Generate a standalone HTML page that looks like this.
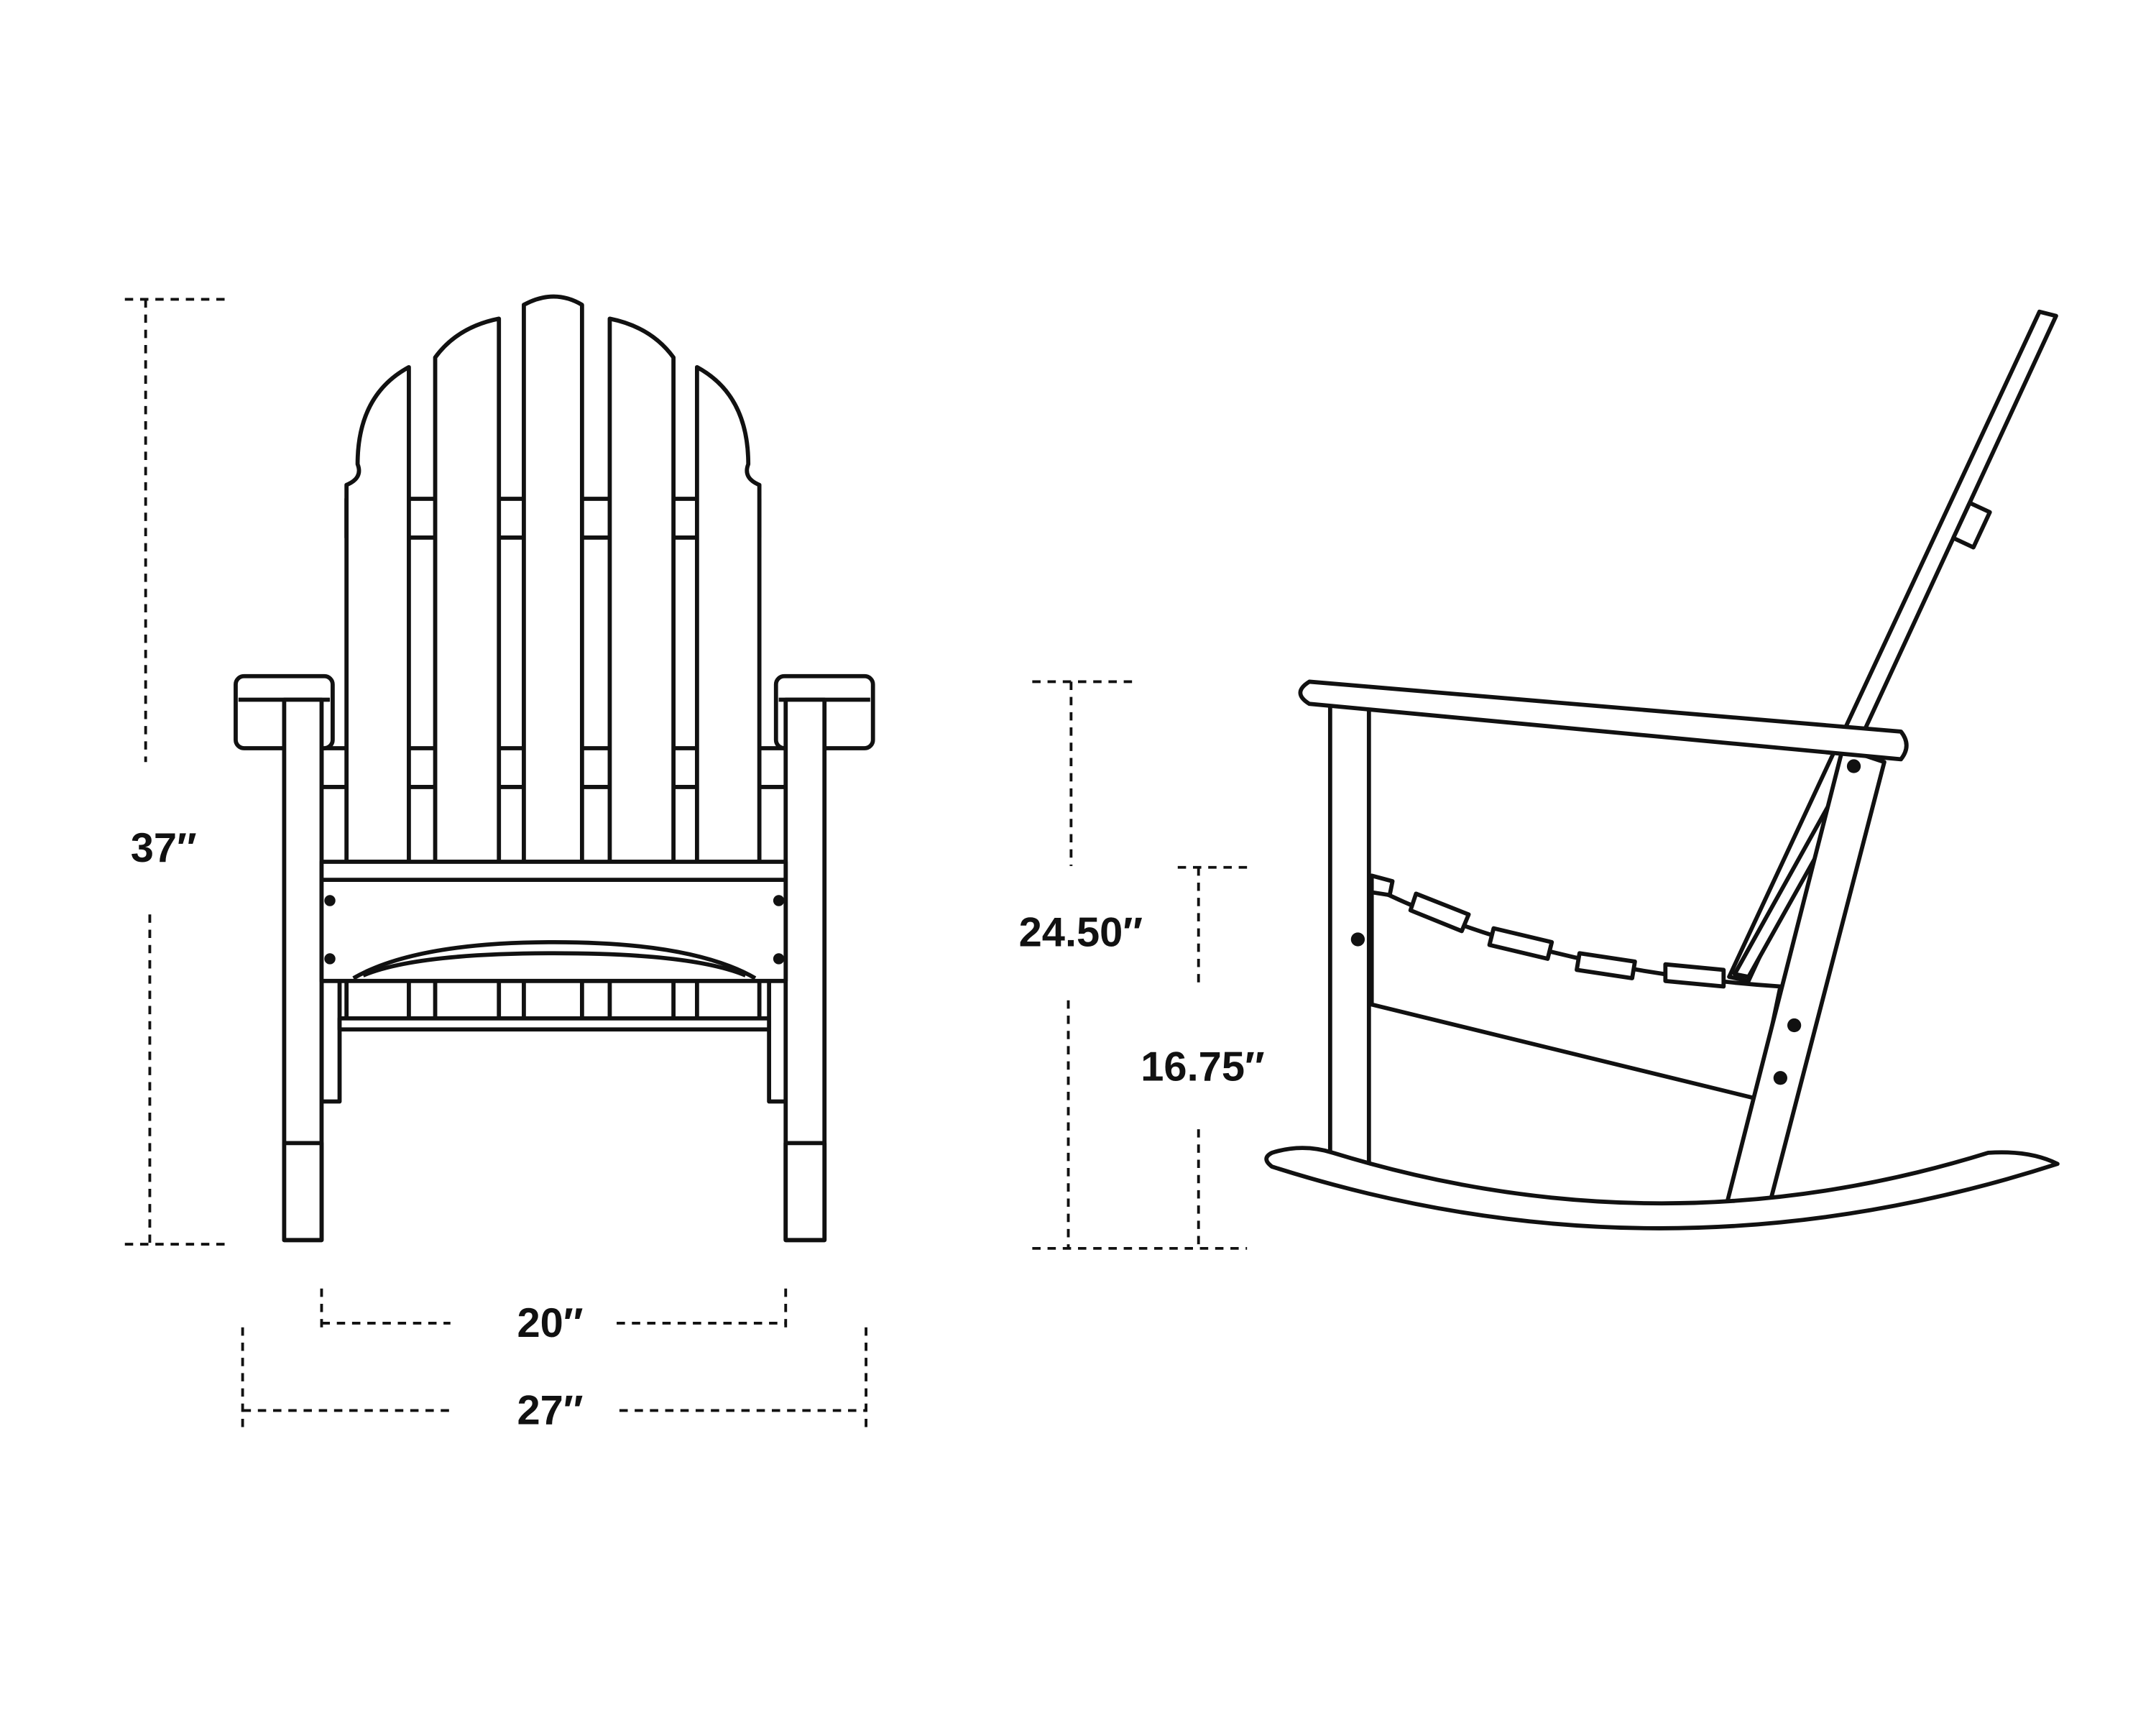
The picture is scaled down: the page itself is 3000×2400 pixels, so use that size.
<!DOCTYPE html>
<html><head><meta charset="utf-8"><style>
html,body{margin:0;padding:0;background:#fff;}
svg{display:block;}
text{font-family:"Liberation Sans",sans-serif;font-weight:bold;font-size:30px;fill:#111;}
</style></head><body>
<svg width="3000" height="2400" viewBox="0 0 1556 1245" xmlns="http://www.w3.org/2000/svg">
<g fill="none" stroke="#111" stroke-width="2" stroke-dasharray="6,5">
<line x1="90" y1="216" x2="162" y2="216"/><line x1="105" y1="216" x2="105" y2="550"/>
<line x1="108" y1="660" x2="108" y2="898"/><line x1="90" y1="898" x2="162" y2="898"/>
<line x1="232" y1="930" x2="232" y2="962"/><line x1="567" y1="930" x2="567" y2="962"/>
<line x1="232" y1="955" x2="325" y2="955"/><line x1="445" y1="955" x2="567" y2="955"/>
<line x1="175" y1="958" x2="175" y2="1030"/><line x1="625" y1="958" x2="625" y2="1030"/>
<line x1="175" y1="1018" x2="325" y2="1018"/><line x1="447" y1="1018" x2="625" y2="1018"/>
<line x1="745" y1="492" x2="817" y2="492"/><line x1="773" y1="492" x2="773" y2="625"/>
<line x1="771" y1="722" x2="771" y2="900"/><line x1="745" y1="901" x2="900" y2="901"/>
<line x1="850" y1="626" x2="900" y2="626"/><line x1="865" y1="626" x2="865" y2="712"/>
<line x1="865" y1="815" x2="865" y2="900"/>
</g>
<text x="118" y="622" text-anchor="middle">37″</text>
<text x="397" y="965" text-anchor="middle">20″</text>
<text x="397" y="1028" text-anchor="middle">27″</text>
<text x="780" y="683" text-anchor="middle">24.50″</text>
<text x="868" y="780" text-anchor="middle">16.75″</text>

<g fill="#fff" stroke="#111" stroke-width="3" stroke-linejoin="round">
<rect x="250" y="360" width="298" height="28"/>
<rect x="232" y="540" width="336" height="28"/>
<path d="M295 265 Q258 285 258 335 Q262 345 250 350 L250 622 L295 622 Z"/>
<path d="M314 258 Q330 236 360 230 L360 622 L314 622 Z"/>
<path d="M378 220 Q400 208 420 220 L420 622 L378 622 Z"/>
<path d="M440 230 Q470 236 486 258 L486 622 L440 622 Z"/>
<path d="M503 265 Q540 285 540 335 Q536 345 548 350 L548 622 L503 622 Z"/>
<rect x="170" y="488" width="70" height="52" rx="6"/>
<rect x="560" y="488" width="70" height="52" rx="6"/>
<line x1="172" y1="505" x2="238" y2="505"/><line x1="562" y1="505" x2="628" y2="505"/>
<rect x="232" y="700" width="13" height="95"/><rect x="555" y="700" width="13" height="95"/>
<rect x="250" y="705" width="45" height="30"/><rect x="314" y="705" width="46" height="30"/>
<rect x="378" y="705" width="42" height="30"/><rect x="440" y="705" width="46" height="30"/>
<rect x="503" y="705" width="45" height="30"/>
<rect x="245" y="735" width="310" height="8"/>
<rect x="205" y="505" width="27" height="390"/><rect x="567" y="505" width="28" height="390"/>
<rect x="205" y="825" width="27" height="70"/><rect x="567" y="825" width="28" height="70"/>
<rect x="232" y="622" width="335" height="86"/>
<line x1="232" y1="635" x2="567" y2="635"/>
<path d="M255 706 Q300 680 400 680 Q500 680 545 706" fill="none"/>
<path d="M262 704 Q300 688 400 688 Q500 688 538 704" fill="none"/>

<path d="M1472 225 L1484 228 L1262 708 L1248 705 Z"/>
<path d="M1340 545 L1350 548 L1262 705 L1252 703 Z"/>
<rect x="1415" y="365" width="16" height="28" transform="rotate(25 1423 379)"/>
<path d="M990 640 Q1110 700 1285 712 L1268 793 L990 725 Z"/>
<path d="M990 632 L1005 636 L1003 646 L990 644 Z"/>
<path d="M1022 645 L1060 660 L1055 672 L1018 657 Z"/>
<path d="M1078 670 L1120 680 L1117 692 L1075 682 Z"/>
<path d="M1140 688 L1180 694 L1178 706 L1138 700 Z"/>
<path d="M1202 696 L1244 700 L1244 712 L1202 708 Z"/>
<path d="M1330 540 L1360 550 L1278 866 L1246 870 Z"/>
<rect x="960" y="508" width="28" height="332"/>
<path d="M945 492 L1372 528 Q1380 538 1372 548 L945 508 Q932 500 945 492 Z"/>
<path d="M918 832 Q940 825 962 832 Q1200 905 1435 832 Q1465 830 1485 840 Q1200 932 918 842 Q910 836 918 832 Z"/>
</g>
<g fill="#111">
<circle cx="238" cy="650" r="4"/><circle cx="238" cy="692" r="4"/>
<circle cx="562" cy="650" r="4"/><circle cx="562" cy="692" r="4"/>
<circle cx="980" cy="678" r="5"/><circle cx="1295" cy="740" r="5"/>
<circle cx="1285" cy="778" r="5"/><circle cx="1338" cy="553" r="5"/>
</g>
</svg>
</body></html>
